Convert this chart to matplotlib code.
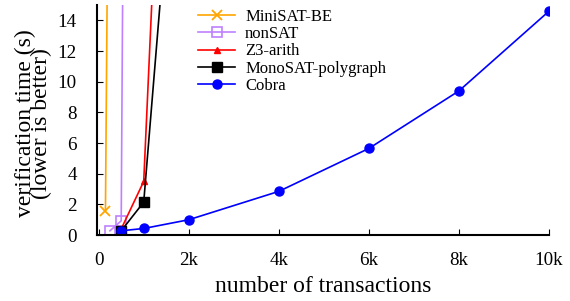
import matplotlib
matplotlib.use("Agg")
import matplotlib.pyplot as plt
from matplotlib.ticker import FuncFormatter

# Data
minisat_x = [150, 250]
minisat_y = [1.6, 39]
nonsat_x = [250, 500, 1000]
nonsat_y = [0.28, 0.93, 230]
z3_x = [500, 1000, 1500]
z3_y = [0.4, 3.5, 36]
monosat_x = [500, 1000, 1500]
monosat_y = [0.28, 2.15, 20]
cobra_x = [500, 1000, 2000, 4000, 6000, 8000, 10000]
cobra_y = [0.28, 0.43, 1.0, 2.85, 5.65, 9.4, 14.6]

x_ticks = [0, 2000, 4000, 6000, 8000, 10000]
y_ticks = [0, 2, 4, 6, 8, 10, 12, 14]

plt.rcParams["font.family"] = ["Liberation Serif", "DejaVu Serif"]
plt.rcParams["font.size"] = 11

fig = plt.figure(figsize=(5.7, 3.01), dpi=100)
ax = fig.add_axes([0.170, 0.219, 0.793, 0.764])

lw = 1.2
ax.plot(minisat_x, minisat_y, color="#ffa500", marker="x", ms=7, mew=1.3,
        lw=lw, label="MiniSAT-BE")
ax.plot(nonsat_x, nonsat_y, color="#bf80ff", marker="s", ms=6.5, mew=1.2,
        fillstyle="none", lw=lw, label="nonSAT")
ax.plot(z3_x, z3_y, color="red", marker="^", ms=5, lw=lw, label="Z3-arith")
ax.plot(monosat_x, monosat_y, color="black", marker="s", ms=6.5, lw=lw,
        label="MonoSAT-polygraph")
ax.plot(cobra_x, cobra_y, color="blue", marker="o", ms=6.5, lw=lw,
        label="Cobra")

ax.set_xlim(-40, 10000)
ax.set_ylim(0, 15)
ax.set_xticks(x_ticks)
ax.set_yticks(y_ticks)
ax.xaxis.set_major_formatter(FuncFormatter(
    lambda v, p: "0" if v == 0 else "%dk" % (v / 1000)))

for side in ["top", "right"]:
    ax.spines[side].set_visible(False)
for side in ["left", "bottom"]:
    ax.spines[side].set_linewidth(1.5)
ax.tick_params(direction="in", length=4, width=0.8, labelsize=13.7)
ax.tick_params(axis="x", pad=12.5)
ax.tick_params(axis="y", pad=14.5)

ax.set_xlabel("number of transactions", fontsize=17)
ax.xaxis.set_label_coords(0.5, -0.18)
ax.set_ylabel("verification time (s)\n(lower is better)", fontsize=17,
              linespacing=0.63)
ax.yaxis.set_label_coords(-0.1, 0.487)

ax.legend(loc="upper left", bbox_to_anchor=(0.21, 1.012), frameon=False,
          fontsize=12, handlelength=2.2, handletextpad=0.6,
          labelspacing=0.07, borderaxespad=0)

fig.savefig("out.png", dpi=100)
